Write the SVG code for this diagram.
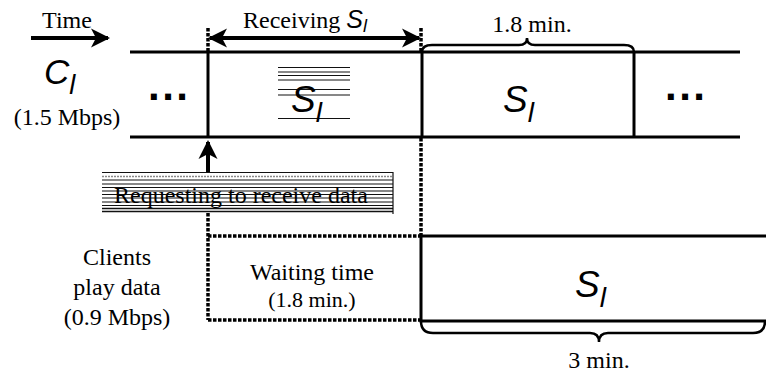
<svg xmlns="http://www.w3.org/2000/svg" width="766" height="377" viewBox="0 0 766 377">
<style>
  .ln{stroke:#000;stroke-width:3;fill:none}
  .dot{stroke:#000;stroke-width:3.5;fill:none;stroke-dasharray:3.5 1.5}
  .arr{stroke:#000;stroke-width:4;fill:none}
  .brace{stroke:#000;stroke-width:2.5;fill:none}
  .hatch{stroke:#111;stroke-width:1.2;fill:none}
  .t{font-family:"Liberation Serif","Times New Roman",serif;font-size:24px;fill:#000}
  .ts{font-family:"Liberation Serif","Times New Roman",serif;font-size:22px;fill:#000}
  .sym{font-family:"Liberation Sans",Arial,sans-serif;font-style:italic;fill:#000}
  .dots{font-family:"Liberation Sans",Arial,sans-serif;font-weight:bold;font-size:42px;letter-spacing:2.5px;fill:#000}
</style>
<defs>
  <marker id="head" markerUnits="userSpaceOnUse" markerWidth="24" markerHeight="24" viewBox="-20 -12 24 24" refX="0" refY="0" orient="auto-start-reverse">
    <path d="M2,0 L-17,-9.5 L-12,0 L-17,9.5 Z" fill="#000"/>
  </marker>
</defs>
<rect width="766" height="377" fill="#fff"/>

<g id="labels-left">
  <text class="t" x="67" y="28" text-anchor="middle">Time</text>
  <text class="sym" x="44" y="84" font-size="35">C<tspan font-size="27" dy="10">l</tspan></text>
  <text class="t" x="67" y="125" text-anchor="middle">(1.5 Mbps)</text>
  <text class="t" x="117" y="265" text-anchor="middle">Clients</text>
  <text class="t" x="117" y="295" text-anchor="middle">play data</text>
  <text class="t" x="117" y="325" text-anchor="middle">(0.9 Mbps)</text>
</g>

<g id="channel-c1">
  <line class="ln" x1="130" y1="52" x2="740" y2="52"/>
  <line class="ln" x1="130" y1="137" x2="740" y2="137"/>
  <text class="dots" x="148" y="100">...</text>
  <text class="dots" x="665" y="100">...</text>
</g>

<g id="segment-s1-receive">
  <line class="ln" x1="208" y1="52" x2="208" y2="137"/>
  <line class="ln" x1="422" y1="52" x2="422" y2="137"/>
  <g class="hatch">
    <line x1="278" y1="67.5" x2="350" y2="67.5"/>
    <line x1="278" y1="72" x2="350" y2="72"/>
    <line x1="278" y1="75.5" x2="350" y2="75.5"/>
    <line x1="278" y1="80" x2="350" y2="80"/>
    <line x1="278" y1="89.5" x2="350" y2="89.5"/>
    <line x1="278" y1="95" x2="350" y2="95"/>
    <line x1="278" y1="118.5" x2="350" y2="118.5"/>
  </g>
  <text class="sym" x="291" y="112" font-size="37">S<tspan font-size="28" dy="10">l</tspan></text>
</g>

<g id="segment-s1-next">
  <line class="ln" x1="634" y1="52" x2="634" y2="137"/>
  <text class="sym" x="503" y="112" font-size="37">S<tspan font-size="28" dy="10">l</tspan></text>
  <path class="brace" d="M422,52 Q422,45 432,45 L519,45 Q527,45 527,38 Q527,45 535,45 L624,45 Q634,45 634,52"/>
  <text class="t" x="532" y="32" text-anchor="middle">1.8 min.</text>
</g>

<g id="request">
  <g class="hatch">
    <line x1="102" y1="172.5" x2="393" y2="172.5"/>
    <line x1="102" y1="176.5" x2="393" y2="176.5" stroke="#888" stroke-width="1.5" stroke-dasharray="2 1"/>
    <line x1="102" y1="180" x2="393" y2="180"/>
    <line x1="102" y1="184" x2="393" y2="184"/>
    <line x1="102" y1="187.5" x2="393" y2="187.5"/>
    <line x1="102" y1="191" x2="393" y2="191"/>
    <line x1="102" y1="194.5" x2="393" y2="194.5"/>
    <line x1="102" y1="198" x2="393" y2="198"/>
    <line x1="102" y1="202" x2="393" y2="202"/>
    <line x1="102" y1="205.5" x2="393" y2="205.5"/>
    <line x1="102" y1="208.5" x2="393" y2="208.5" stroke-width="1.5"/>
    <line x1="102" y1="211.5" x2="393" y2="211.5" stroke-width="1.5"/>
    <line x1="393" y1="172" x2="393" y2="214"/>
  </g>
  <text class="t" x="114" y="203" font-size="24.5">Requesting to receive data</text>
</g>

<g id="waiting">
  <text class="t" x="312" y="280" text-anchor="middle">Waiting time</text>
  <text class="ts" x="312" y="307" text-anchor="middle">(1.8 min.)</text>
</g>

<g id="playback-s1">
  <path class="ln" d="M766,236 L421,236 L421,321 L766,321"/>
  <text class="sym" x="575" y="297" font-size="37">S<tspan font-size="28" dy="10">l</tspan></text>
  <path class="brace" d="M421,321 Q421,333 433,333 L590,333 Q599,333 599,342 Q599,333 608,333 L753,333 Q765,333 765,321"/>
  <text class="t" x="599" y="368" text-anchor="middle">3 min.</text>
</g>

<g id="connectors">
  <line class="arr" x1="31" y1="38" x2="108" y2="38" marker-end="url(#head)"/>
  <line class="arr" x1="210" y1="38" x2="419" y2="38" marker-start="url(#head)" marker-end="url(#head)"/>
  <text class="t" x="243" y="28">Receiving <tspan class="sym" font-size="25">S</tspan><tspan class="sym" font-size="18" dy="4">l</tspan></text>
  <line class="arr" x1="208" y1="172" x2="208" y2="142" marker-end="url(#head)"/>
  <line class="dot" x1="208" y1="28" x2="208" y2="51"/>
  <line class="dot" x1="421" y1="28" x2="421" y2="51"/>
  <line class="dot" x1="421" y1="138" x2="421" y2="236"/>
  <line class="dot" x1="208" y1="213" x2="208" y2="320"/>
  <line class="dot" x1="208" y1="236" x2="421" y2="236"/>
  <line class="dot" x1="208" y1="320" x2="421" y2="320"/>
</g>
</svg>
